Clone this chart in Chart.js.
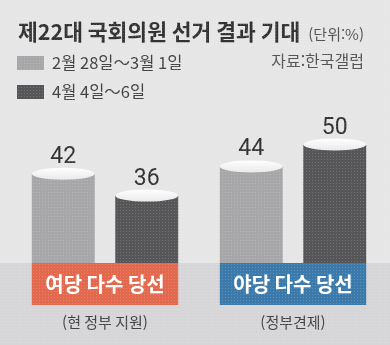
<!DOCTYPE html>
<html lang="ko">
<head>
<meta charset="utf-8">
<script src="https://cdn.jsdelivr.net/npm/chart.js@4.4.1/dist/chart.umd.min.js"></script>
<style>
  html, body { margin: 0; padding: 0; background: #e7e7e7; }
  #wrap { position: relative; width: 390px; height: 345px; }
</style>
</head>
<body>
<div id="wrap"><canvas id="chart"></canvas></div>
<script>
// 데이터
const categories = ['여당 다수 당선', '야당 다수 당선'];
const subLabels = ['(현 정부 지원)', '(정부견제)'];
const seriesNames = ['2월 28일～3월 1일', '4월 4일～6일'];
const firstSurvey = [42, 44];
const secondSurvey = [36, 50];

const title = '제22대 국회의원 선거 결과 기대';
const unitText = '(단위:%)';
const sourceText = '자료:한국갤럽';

const FONT = '"Noto Sans CJK KR", "Noto Sans", sans-serif';
const NUM_FONT = '"Liberation Sans Narrow", "Roboto", sans-serif';
const barColors = ['#a7a7a9', '#565659'];
const boxColors = ['#e2694e', '#3b7aab'];
const BAND_TOP = 263;

// 인쇄물 느낌의 잔점 무늬
function dotPattern(ctx) {
  const c = document.createElement('canvas');
  c.width = 3; c.height = 3;
  const p = c.getContext('2d');
  p.fillStyle = 'rgba(255,255,255,0.18)';
  p.fillRect(0, 0, 1, 1);
  return ctx.createPattern(c, 'repeat');
}

const decorPlugin = {
  id: 'decor',
  beforeDraw(chart) {
    const { ctx, width, height } = chart;
    ctx.save();
    ctx.fillStyle = '#e6e6e6';
    ctx.fillRect(0, 0, width, height);
    ctx.restore();
  },
  afterDatasetsDraw(chart) {
    const { ctx, width, height } = chart;
    ctx.save();

    // 하단 띠 (막대 아래쪽을 덮음)
    ctx.fillStyle = '#d6d6d8';
    ctx.fillRect(0, BAND_TOP, width, height - BAND_TOP);

    // 카테고리 상자
    categories.forEach((cat, i) => {
      const metas = chart.data.datasets.map((d, k) => chart.getDatasetMeta(k).data[i]);
      const left = metas[0].x - metas[0].width / 2;
      const right = metas[1].x + metas[1].width / 2;
      ctx.fillStyle = boxColors[i];
      ctx.fillRect(left, BAND_TOP, right - left, 42);
      ctx.fillStyle = '#ffffff';
      ctx.font = `bold 20px ${FONT}`;
      ctx.textAlign = 'center';
      ctx.textBaseline = 'middle';
      ctx.fillText(cat, (left + right) / 2, BAND_TOP + 21);
      ctx.fillStyle = '#444444';
      ctx.font = `15px ${FONT}`;
      ctx.fillText(subLabels[i], (left + right) / 2, 322);
    });

    // 원기둥 윗면과 값 표시
    chart.data.datasets.forEach((ds, k) => {
      chart.getDatasetMeta(k).data.forEach((bar, i) => {
        const rx = bar.width / 2;
        const grad = ctx.createLinearGradient(0, bar.y - 6, 0, bar.y + 6);
        grad.addColorStop(0, '#ffffff');
        grad.addColorStop(1, '#e9e9e9');
        ctx.fillStyle = grad;
        ctx.beginPath();
        ctx.ellipse(bar.x, bar.y, rx, 6, 0, 0, Math.PI * 2);
        ctx.fill();
        ctx.fillStyle = '#333333';
        ctx.font = `23px ${NUM_FONT}`;
        ctx.textAlign = 'center';
        ctx.textBaseline = 'alphabetic';
        ctx.fillText(String(ds.data[i]), bar.x, bar.y - 11);
      });
    });

    // 제목, 범례, 출처
    ctx.textBaseline = 'middle';
    ctx.textAlign = 'left';
    ctx.fillStyle = '#333333';
    ctx.font = `bold 21.5px ${FONT}`;
    ctx.fillText(title, 18, 32);
    ctx.fillStyle = '#555555';
    ctx.font = `15px ${FONT}`;
    ctx.textAlign = 'right';
    ctx.fillText(unitText, 364, 34);
    ctx.font = `16px ${FONT}`;
    ctx.fillText(sourceText, 364, 61);

    ctx.textAlign = 'left';
    seriesNames.forEach((name, k) => {
      const y = 63 + k * 29;
      ctx.fillStyle = barColors[k];
      ctx.fillRect(17, y - 7, 27, 14);
      ctx.fillStyle = '#444444';
      ctx.font = `16.5px ${FONT}`;
      ctx.fillText(name, 52, y);
    });

    ctx.restore();
  },
  afterDraw(chart) {
    const { ctx, width, height } = chart;
    ctx.save();
    ctx.fillStyle = dotPattern(ctx);
    ctx.fillRect(0, 0, width, height);
    ctx.restore();
  }
};

new Chart(document.getElementById('chart'), {
  type: 'bar',
  data: {
    labels: categories,
    datasets: [
      { label: seriesNames[0], data: firstSurvey, backgroundColor: barColors[0] },
      { label: seriesNames[1], data: secondSurvey, backgroundColor: barColors[1] }
    ]
  },
  options: {
    responsive: true,
    maintainAspectRatio: false,
    animation: false,
    categoryPercentage: 0.888,
    barPercentage: 0.754,
    layout: { padding: { left: 11, right: 3, top: 108, bottom: 18 } },
    scales: {
      x: { display: false },
      y: { display: false, min: 0, max: 60 }
    },
    plugins: {
      legend: { display: false },
      tooltip: { enabled: false }
    }
  },
  plugins: [decorPlugin]
});
</script>
</body>
</html>
